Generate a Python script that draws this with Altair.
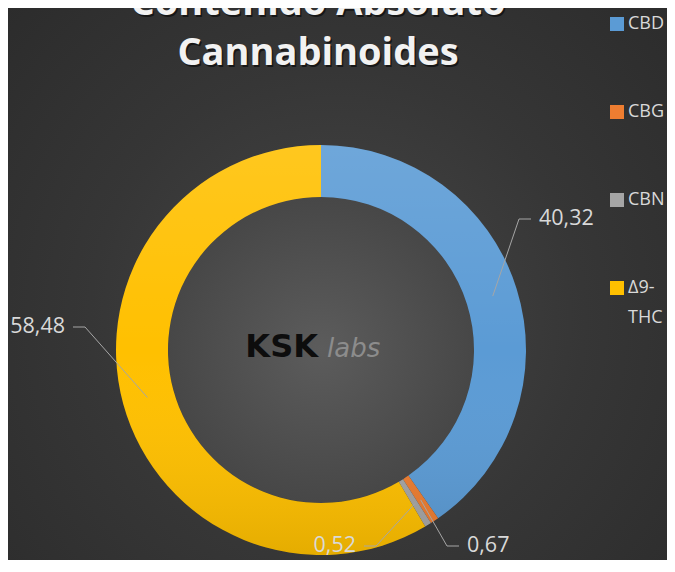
import altair as alt
import numpy as np
import pandas as pd

# ---- data ----
categories = ["CBD", "CBG", "CBN", "Δ9-THC"]
values = [40.32, 0.67, 0.52, 58.48]
colors = ["#5B9BD5", "#ED7D31", "#A5A5A5", "#FFC000"]
title_lines = ["Contenido Absoluto", "Cannabinoides"]
legend_lines = [["CBD"], ["CBG"], ["CBN"], ["Δ9-", "THC"]]  # wrapped legend labels

# ---- annotation layout (label elbow position relative to donut centre, y up) ----
label_elbow_x = [198, 126, 55, -236]
label_elbow_y = [131, -196, -196, 23]
label_side = [1, 1, -1, -1]

# ---- geometry ----
W, H = 659, 552
CX, CY = 313, 342
R_OUT, R_IN, R_MID = 205, 153, 180
LEG_X, LEG_TOP, LEG_STEP, LEG_LINE = 609, 16, 88, 30

value_labels = [f"{v:.2f}".replace(".", ",") for v in values]

donut = pd.DataFrame({"cat": categories, "value": values, "idx": range(len(values))})

vals = np.array(values)
cum = np.cumsum(vals)
mid = (cum - vals / 2) / vals.sum() * 2 * np.pi
rows = []
text_rows = []
for i, c in enumerate(categories):
    sx, sy = R_MID * np.sin(mid[i]), R_MID * np.cos(mid[i])
    ex, ey = label_elbow_x[i], label_elbow_y[i]
    hx = ex + 12 * label_side[i]
    rows += [
        {"cat": c, "pt": 0, "x": sx, "y": sy},
        {"cat": c, "pt": 1, "x": ex, "y": ey},
        {"cat": c, "pt": 2, "x": hx, "y": ey},
    ]
    text_rows.append({"cat": c, "x": hx + 8 * label_side[i], "y": ey,
                      "label": value_labels[i], "side": label_side[i]})
leaders = pd.DataFrame(rows)
labels = pd.DataFrame(text_rows)

leg_sym = pd.DataFrame({"cat": categories,
                        "y": [CY - (LEG_TOP + LEG_STEP * i) for i in range(len(categories))]})
leg_txt = pd.DataFrame([
    {"cat": c, "text": t, "y": CY - (LEG_TOP + LEG_STEP * i + LEG_LINE * k)}
    for i, c in enumerate(categories) for k, t in enumerate(legend_lines[i])
])

xs = alt.Scale(domain=[-CX, W - CX], range=[0, W], nice=False, zero=False)
ys = alt.Scale(domain=[CY - H, CY], range=[H, 0], nice=False, zero=False)
cs = alt.Scale(domain=categories, range=colors)
X0 = alt.X(datum=0, scale=xs, axis=None)
Y0 = alt.Y(datum=0, scale=ys, axis=None)

disc_fill = {
    "gradient": "radial", "x1": 0.5, "y1": 0.5, "r1": 0, "x2": 0.5, "y2": 0.5, "r2": 0.5,
    "stops": [{"offset": 0, "color": "#5c5c5c"}, {"offset": 1, "color": "#474747"}],
}
ring_fill = {
    "gradient": "linear", "x1": 0, "y1": 0, "x2": 0, "y2": 1,
    "stops": [
        {"offset": 0, "color": "rgba(255,255,255,0.12)"},
        {"offset": 0.5, "color": "rgba(255,255,255,0)"},
        {"offset": 1, "color": "rgba(0,0,0,0.10)"},
    ],
}
bg_fill = {
    "gradient": "radial", "x1": 0.5, "y1": 0.55, "r1": 0, "x2": 0.5, "y2": 0.55, "r2": 0.75,
    "stops": [
        {"offset": 0, "color": "#474747"},
        {"offset": 0.5, "color": "#363636"},
        {"offset": 1, "color": "#2a2a2a"},
    ],
}

base_one = alt.Chart(pd.DataFrame({"k": [0]}))

bg = base_one.mark_rect(fill=bg_fill).encode(
    x=alt.value(0), x2=alt.value(W), y=alt.value(0), y2=alt.value(H))

disc = base_one.mark_arc(theta=0, theta2=2 * np.pi, innerRadius=0, outerRadius=R_IN,
                         fill=disc_fill).encode(x=X0, y=Y0)

ring = alt.Chart(donut).mark_arc(innerRadius=R_IN, outerRadius=R_OUT).encode(
    x=X0, y=Y0,
    theta=alt.Theta("value:Q", stack=True),
    order=alt.Order("idx:Q"),
    color=alt.Color("cat:N", scale=cs, legend=None),
)

ring_shade = base_one.mark_arc(theta=0, theta2=2 * np.pi, innerRadius=R_IN,
                               outerRadius=R_OUT, fill=ring_fill).encode(x=X0, y=Y0)

lines = alt.Chart(leaders).mark_line(color="#a6a6a6", strokeWidth=1).encode(
    x=alt.X("x:Q", scale=xs, axis=None),
    y=alt.Y("y:Q", scale=ys, axis=None),
    detail="cat:N",
    order="pt:Q",
)

lab_common = dict(font="Open Sans", fontSize=21.5, color="#d9d9d9", baseline="middle")
labels_right = alt.Chart(labels).transform_filter("datum.side > 0").mark_text(
    align="left", **lab_common).encode(
    x=alt.X("x:Q", scale=xs, axis=None), y=alt.Y("y:Q", scale=ys, axis=None), text="label:N")
labels_left = alt.Chart(labels).transform_filter("datum.side < 0").mark_text(
    align="right", **lab_common).encode(
    x=alt.X("x:Q", scale=xs, axis=None), y=alt.Y("y:Q", scale=ys, axis=None), text="label:N")

legend_sq = alt.Chart(leg_sym).mark_square(size=196, opacity=1, strokeWidth=0).encode(
    x=alt.value(LEG_X),
    y=alt.Y("y:Q", scale=ys, axis=None),
    color=alt.Color("cat:N", scale=cs, legend=None),
)
legend_tx = alt.Chart(leg_txt).mark_text(
    font="Open Sans", fontSize=18, color="#d9d9d9", align="left", baseline="middle",
).encode(x=alt.value(LEG_X + 11), y=alt.Y("y:Q", scale=ys, axis=None), text="text:N")

title_shadow = base_one.mark_text(
    font="Open Sans", fontSize=38, fontWeight="bold", color="#000000", opacity=0.55,
    align="center", baseline="alphabetic", lineHeight=50, dx=1.5, dy=2,
).encode(x=alt.value(310), y=alt.value(7), text=alt.value(title_lines))
title = base_one.mark_text(
    font="Open Sans", fontSize=38, fontWeight="bold", color="#f2f2f2",
    align="center", baseline="alphabetic", lineHeight=50,
).encode(x=alt.value(310), y=alt.value(7), text=alt.value(title_lines))

logo_ksk = base_one.mark_text(
    font="DejaVu Sans", fontSize=32, fontWeight="bold", color="#0d0d0d",
    align="right", baseline="alphabetic",
).encode(x=alt.value(310), y=alt.value(349), text=alt.value("KSK"))
logo_labs = base_one.mark_text(
    font="DejaVu Sans", fontSize=26, fontStyle="italic", color="#8c8c8c",
    align="left", baseline="alphabetic",
).encode(x=alt.value(319), y=alt.value(349), text=alt.value("labs"))

chart = alt.layer(
    bg, disc, ring, ring_shade, lines, labels_right, labels_left,
    legend_sq, legend_tx, logo_ksk, logo_labs, title_shadow, title,
).properties(
    width=W, height=H, padding=0, autosize=alt.AutoSizeParams(type="none"),
    background="#303030",
).configure_view(stroke="transparent")

chart.save("out.html", embed_options={"renderer": "svg", "actions": False})
